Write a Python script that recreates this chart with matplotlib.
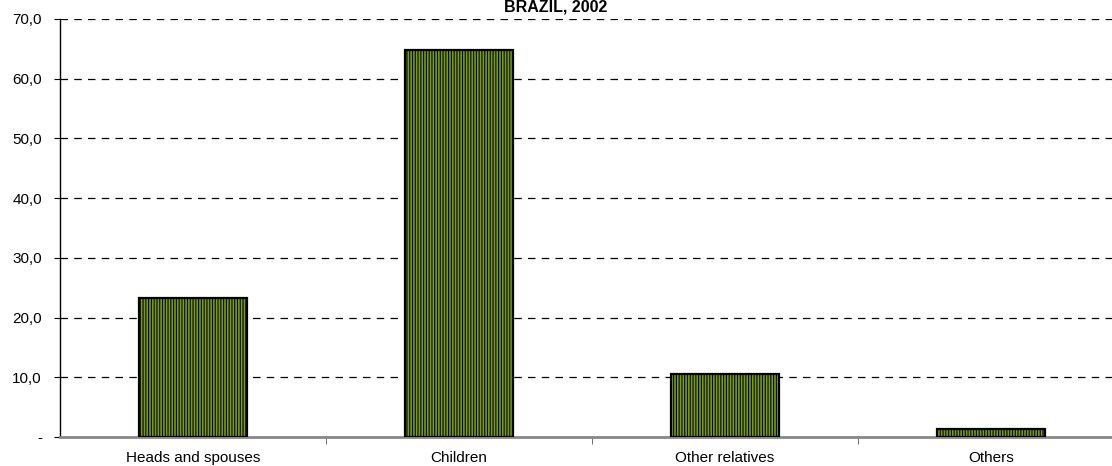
import numpy as np
import matplotlib
matplotlib.use('Agg')
import matplotlib.pyplot as plt
from matplotlib.ticker import FuncFormatter, FixedLocator

plt.rcParams['font.family'] = ['Liberation Sans', 'DejaVu Sans']
plt.rcParams['hatch.linewidth'] = 0.8

# data
categories = ['Heads and spouses', 'Children', 'Other relatives', 'Others']
shares = [23.3, 64.8, 10.6, 1.4]
title = 'BRAZIL, 2002'

fig = plt.figure(figsize=(11.12, 4.66), dpi=100)
ax = fig.add_axes([60 / 1112, 1 - 437 / 466, 1 - 60 / 1112, (437 - 19) / 466])

x = np.arange(len(categories))
ax.bar(x, shares, width=0.405, color='#7aa000', edgecolor='black',
       linewidth=1.6, hatch='||||||', zorder=3)

ax.set_xlim(-0.5, 3.455)
ax.set_ylim(0, 70)
ax.set_yticks(np.arange(0, 71, 10))
ax.yaxis.set_major_formatter(FuncFormatter(
    lambda v, p: '-' if v == 0 else f'{v:.1f}'.replace('.', ',')))
ax.tick_params(axis='y', labelsize=11, length=4, direction='out', pad=9)

# category labels at bars, tick marks between categories
ax.set_xticks(x)
ax.set_xticklabels(categories, fontsize=11)
ax.tick_params(axis='x', length=0, pad=10)
ax.xaxis.set_minor_locator(FixedLocator(x[:-1] + 0.5))
ax.tick_params(axis='x', which='minor', length=5, color='#555555')

ax.grid(axis='y', linestyle=(0, (6, 5)), color='black', linewidth=0.9, zorder=0)
ax.set_axisbelow(True)

for s in ['top', 'right']:
    ax.spines[s].set_visible(False)
ax.spines['left'].set_linewidth(1.0)
ax.spines['bottom'].set_color('#888888')
ax.spines['bottom'].set_linewidth(2)

fig.text(0.5, 1 - 11 / 466, title, ha='center', va='baseline',
         fontsize=11.5, fontweight='bold')

fig.savefig('out.png', dpi=100)
